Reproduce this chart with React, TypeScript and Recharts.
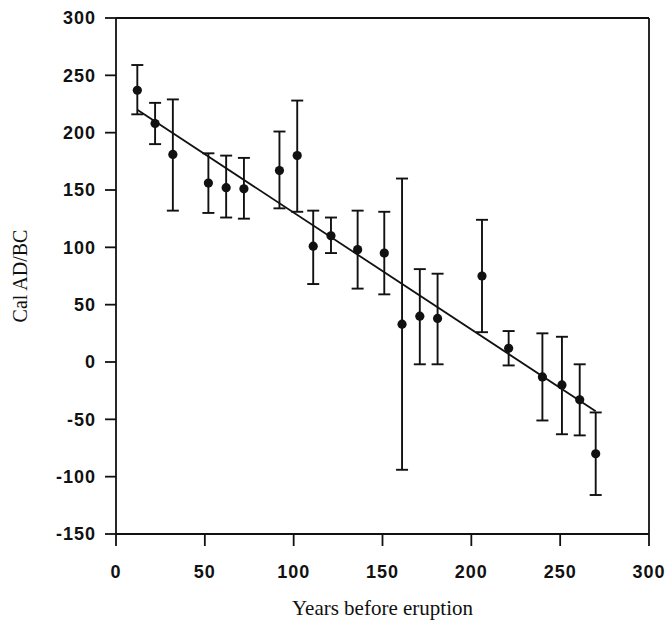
import {
  ReferenceLine,
  Scatter,
  ScatterChart,
  XAxis,
  YAxis,
  ErrorBar,
} from "recharts";

/** Calibrated ages vs. years before eruption, with 1-sigma error bars and a
 * straight-line fit. */

document.body.style.margin = "0";

const years = [12, 22, 32, 52, 62, 72, 92, 102, 111, 121, 136, 151, 161, 171, 181, 206, 221, 240, 251, 261, 270];
const calAge = [237, 208, 181, 156, 152, 151, 167, 180, 101, 110, 98, 95, 33, 40, 38, 75, 12, -13, -20, -33, -80];
const upper = [259, 226, 229, 182, 180, 178, 201, 228, 132, 126, 132, 131, 160, 81, 77, 124, 27, 25, 22, -2, -44];
const lower = [216, 190, 132, 130, 126, 125, 134, 131, 68, 95, 64, 59, -94, -2, -2, 26, -3, -51, -63, -64, -116];

const fitYears = [12, 270];
const fitAge = [220, -43];

const xTicks = [0, 50, 100, 150, 200, 250, 300];
const yTicks = [-150, -100, -50, 0, 50, 100, 150, 200, 250, 300];

const points = years.map((x, i) => ({
  x,
  y: calAge[i],
  err: [calAge[i] - lower[i], upper[i] - calAge[i]],
}));
const fit = fitYears.map((x, i) => ({ x, y: fitAge[i] }));

const tickStyle = {
  fontFamily: "'Liberation Sans', Arial, sans-serif",
  fontSize: 18,
  fontWeight: 700,
  letterSpacing: 1,
  fill: "#111",
};
const labelFont = "'Liberation Serif', 'Times New Roman', serif";

const Dot = (p: any) => <circle cx={p.cx} cy={p.cy} r={4.6} fill="#111" />;

export default function App() {
  return (
    <ScatterChart
      width={668}
      height={627}
      margin={{ top: 18, right: 19, bottom: 10, left: 10 }}
      style={{ background: "#fff" }}
    >
      <XAxis
        type="number"
        dataKey="x"
        domain={[0, 300]}
        ticks={xTicks}
        allowDataOverflow
        height={83}
        tickSize={12}
        tickMargin={19}
        tick={tickStyle}
        stroke="#111"
        strokeWidth={1.8}
        label={{
          value: "Years before eruption",
          position: "insideBottom",
          offset: 2,
          style: { fontFamily: labelFont, fontSize: 21, fill: "#111" },
        }}
      />
      <YAxis
        type="number"
        dataKey="y"
        domain={[-150, 300]}
        ticks={yTicks}
        allowDataOverflow
        width={106}
        tickSize={11}
        tickMargin={9}
        tick={tickStyle}
        stroke="#111"
        strokeWidth={1.8}
        label={{
          value: "Cal AD/BC",
          angle: -90,
          position: "insideLeft",
          offset: 10,
          style: {
            textAnchor: "middle",
            fontFamily: labelFont,
            fontSize: 20,
            fill: "#111",
          },
        }}
      />
      <ReferenceLine y={300} stroke="#111" strokeWidth={1.8} />
      <ReferenceLine x={300} stroke="#111" strokeWidth={1.8} />
      <Scatter
        data={fit}
        line={{ stroke: "#111", strokeWidth: 1.8 }}
        shape={() => <g />}
        isAnimationActive={false}
      />
      <Scatter data={points} shape={Dot} isAnimationActive={false}>
        <ErrorBar
          dataKey="err"
          direction="y"
          width={6}
          stroke="#111"
          strokeWidth={1.9}
          isAnimationActive={false}
        />
      </Scatter>
    </ScatterChart>
  );
}
